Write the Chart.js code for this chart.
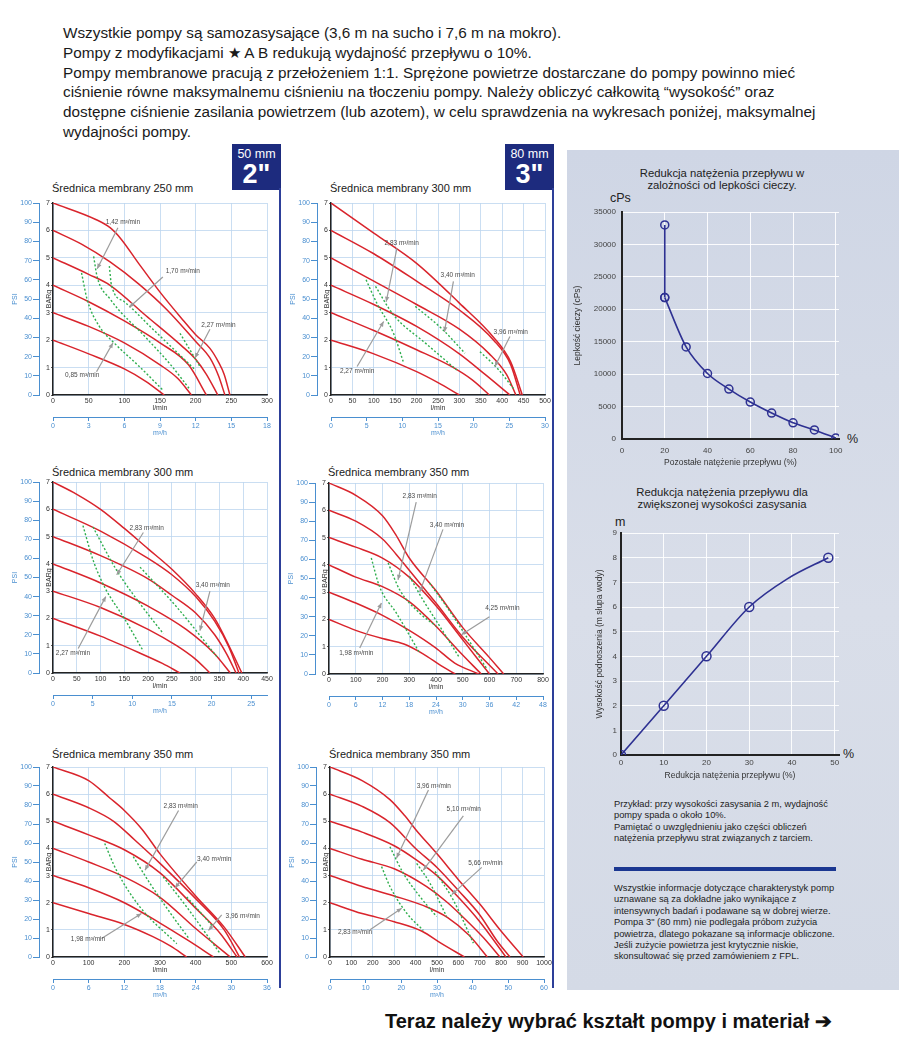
<!DOCTYPE html>
<html lang="pl">
<head>
<meta charset="utf-8">
<title>Pompy membranowe - wykresy wydajności</title>
<script src="https://cdn.jsdelivr.net/npm/chart.js@4.4.1/dist/chart.umd.min.js"></script>
<style>
  body { margin:0; width:899px; height:1037px; position:relative; overflow:hidden; background:#fff;
         font-family:"Liberation Sans", Arial, Helvetica, sans-serif; color:#1a1a1a; }
  .abs { position:absolute; }
  #intro { left:63px; top:23px; font-size:15.3px; line-height:19.8px; white-space:nowrap; }
  .sizebox { background:#1d2b7e; color:#fff; width:49px; height:46px; text-align:center; }
  .sizebox .mm { font-size:12.5px; line-height:13px; margin-top:4px; }
  .sizebox .inch { font-size:27px; font-weight:bold; line-height:26px; }
  .vline { width:2px; background:#2d3f99; }
  .ctitle { font-size:11px; white-space:nowrap; }
  #panel { left:567px; top:150px; width:332px; height:840px;
           background:linear-gradient(180deg,#cfd6e5 0%,#d9dee9 55%,#d4dae6 100%); }
  .ptitle { font-size:11.3px; line-height:12.4px; text-align:center; width:300px; color:#222; }
  .unit { font-size:12.5px; color:#222; }
  .note { font-size:9.3px; line-height:11.4px; color:#222; white-space:nowrap; }
  #footer { left:385px; top:1009px; font-size:20px; font-weight:bold; white-space:nowrap; color:#111; }
</style>
</head>
<body>

<div id="intro" class="abs">
Wszystkie pompy są samozasysające (3,6 m na sucho i 7,6 m na mokro).<br>
Pompy z modyfikacjami ★ A B redukują wydajność przepływu o 10%.<br>
Pompy membranowe pracują z przełożeniem 1:1. Sprężone powietrze dostarczane do pompy powinno mieć<br>
ciśnienie równe maksymalnemu ciśnieniu na tłoczeniu pompy. Należy obliczyć całkowitą “wysokość” oraz<br>
dostępne ciśnienie zasilania powietrzem (lub azotem), w celu sprawdzenia na wykresach poniżej, maksymalnej<br>
wydajności pompy.
</div>

<div class="abs sizebox" style="left:232px;top:144px"><div class="mm">50 mm</div><div class="inch">2"</div></div>
<div class="abs sizebox" style="left:505px;top:144px"><div class="mm">80 mm</div><div class="inch">3"</div></div>
<div class="abs vline" style="left:279px;top:188px;height:800px"></div>
<div class="abs vline" style="left:552px;top:188px;height:800px"></div>

<div id="panel" class="abs"></div>
<div class="abs ptitle" style="left:572px;top:167px">Redukcja natężenia przepływu w<br>zalożności od lepkości cieczy.</div>
<div class="abs unit" style="left:610px;top:191px">cPs</div>
<div class="abs unit" style="left:847px;top:432px">%</div>
<canvas id="viscChart" class="abs" width="276" height="269" style="left:570px;top:200px"></canvas>

<div class="abs ptitle" style="left:572px;top:486px">Redukcja natężenia przepływu dla<br>zwiększonej wysokości zasysania</div>
<div class="abs unit" style="left:615px;top:515px">m</div>
<div class="abs unit" style="left:843px;top:747px">%</div>
<canvas id="liftChart" class="abs" width="256" height="258" style="left:590px;top:525px"></canvas>

<div class="abs note" style="left:614px;top:799px">Przykład: przy wysokości zasysania 2 m, wydajność<br>pompy spada o około 10%.<br>Pamiętać o uwzględnieniu jako części obliczeń<br>natężenia przepływu strat związanych z tarciem.</div>
<div class="abs" style="left:614px;top:867px;width:222px;height:4px;background:#1b3791"></div>
<div class="abs note" style="left:614px;top:883px">Wszystkie informacje dotyczące charakterystyk pomp<br>uznawane są za dokładne jako wynikające z<br>intensywnych badań i podawane są w dobrej wierze.<br>Pompa 3" (80 mm) nie podlegała próbom zużycia<br>powietrza, dlatego pokazane są informacje obliczone.<br>Jeśli zużycie powietrza jest krytycznie niskie,<br>skonsultować się przed zamówieniem z FPL.</div>

<div id="footer" class="abs">Teraz należy wybrać kształt pompy i materiał ➔</div>

<script>
// ---------- pump curves: flow (l/min) vs outlet pressure (BARg) ----------
const pumpTitles = ["Średnica membrany 250 mm", "Średnica membrany 300 mm", "Średnica membrany 300 mm",
                    "Średnica membrany 350 mm", "Średnica membrany 350 mm", "Średnica membrany 350 mm"];
const flowMax  = [300, 500, 450, 800, 600, 1000];
const flowStep = [50, 50, 50, 100, 100, 100];
const m3hMax   = [18, 30, 27, 48, 36, 60];
const m3hStep  = [3, 5, 5, 6, 6, 10];

// air supply pressure curves 7, 6, 5, 4, 3, 2 bar  -> [l/min, BARg]
const red1 = [
  [[0,7],[60,6.4],[80,6.1],[95,5.7],[120,4.8],[150,3.75],[180,2.8],[200,2.2],[220,1.7],[232,1.2],[240,0.75],[248,0]],
  [[0,6],[40,5.5],[80,4.85],[120,4.05],[160,3.1],[200,1.95],[220,1.35],[232,0.7],[241,0]],
  [[0,5],[50,4.4],[80,4.0],[130,2.9],[180,1.8],[200,1.3],[215,0.75],[231,0]],
  [[0,4],[50,3.4],[100,2.7],[150,1.9],[190,1.1],[215,0]],
  [[0,3],[50,2.5],[100,1.9],[150,1.1],[175,0.6],[194,0]],
  [[0,2],[50,1.5],[100,0.95],[130,0.5],[156,0]]
];
const red2 = [
  [[0,7],[100,5.9],[200,4.8],[300,3.35],[380,2.1],[420,1.2],[447,0]],
  [[0,6],[100,5.15],[200,4.15],[300,3.1],[380,2.0],[420,1.1],[442,0]],
  [[0,5],[100,4.15],[200,3.3],[300,2.4],[370,1.5],[410,0.75],[432,0]],
  [[0,4],[100,3.3],[200,2.5],[300,1.5],[360,0.75],[418,0]],
  [[0,3],[100,2.35],[200,1.65],[280,1.05],[330,0.55],[370,0]],
  [[0,2],[100,1.5],[200,0.85],[250,0.45],[300,0]]
];
const red3 = [
  [[0,7],[50,6.55],[100,6.0],[150,5.3],[200,4.55],[250,3.8],[300,2.9],[340,2.0],[370,1.0],[397,0]],
  [[0,6],[100,5.2],[200,4.2],[250,3.6],[300,2.8],[340,1.9],[370,0.95],[391,0]],
  [[0,5],[100,4.3],[200,3.45],[250,2.85],[300,2.2],[340,1.4],[365,0.7],[385,0]],
  [[0,4],[100,3.3],[200,2.45],[280,1.6],[340,0.7],[373,0]],
  [[0,3],[100,2.4],[200,1.6],[260,1.0],[300,0.5],[330,0]],
  [[0,2],[100,1.35],[180,0.75],[230,0.35],[267,0]]
];
const red4 = [
  [[0,7],[100,6.55],[200,5.8],[250,5.1],[300,4.25],[400,3.05],[500,1.7],[600,0.6],[653,0]],
  [[0,6],[100,5.6],[200,4.95],[250,4.4],[300,3.8],[400,2.6],[500,1.35],[632,0]],
  [[0,5],[100,4.65],[200,4.25],[300,3.55],[400,2.5],[500,1.25],[600,0]],
  [[0,4],[100,3.55],[200,3.2],[300,2.65],[400,1.75],[480,0.9],[569,0]],
  [[0,3],[100,2.6],[200,2.15],[300,1.6],[400,0.95],[470,0.4],[560,0]],
  [[0,2],[100,1.6],[200,1.3],[280,1.1],[350,0.75],[420,0.3],[472,0]]
];
const red5 = [
  [[0,7],[100,6.5],[160,5.85],[200,5.4],[250,4.7],[300,3.8],[400,2.25],[480,1.1],[539,0]],
  [[0,6],[100,5.5],[170,5.0],[230,4.3],[300,3.45],[400,2.15],[480,1.0],[523,0]],
  [[0,5],[100,4.5],[200,3.95],[300,3.1],[400,1.8],[470,0.85],[516,0]],
  [[0,4],[100,3.5],[200,2.95],[300,2.2],[400,1.05],[497,0]],
  [[0,3],[100,2.55],[200,2.0],[300,1.25],[380,0.6],[450,0]],
  [[0,2],[100,1.6],[200,1.2],[280,0.75],[330,0.4],[375,0]]
];
const red6 = [
  [[0,7],[150,6.5],[280,5.8],[350,5.2],[400,4.7],[500,3.8],[600,2.85],[700,1.95],[800,0.95],[903,0]],
  [[0,6],[150,5.55],[280,4.95],[400,4.0],[500,3.3],[600,2.45],[700,1.55],[780,0.6],[841,0]],
  [[0,5],[150,4.6],[300,4.1],[400,3.6],[500,3.0],[600,2.2],[700,1.3],[822,0]],
  [[0,4],[150,3.6],[300,3.25],[450,2.6],[550,2.0],[650,1.25],[730,0.6],[794,0]],
  [[0,3],[150,2.6],[300,2.25],[450,1.85],[550,1.45],[650,0.8],[735,0]],
  [[0,2],[150,1.6],[300,1.3],[430,0.95],[520,0.5],[628,0]]
];

// air consumption lines (dashed green)
const green1 = [
  [[40,4.45],[48,3.47],[65,2.5],[86,1.89],[121,1.04],[154,0.18]],
  [[57,5.05],[62,4.3],[80,3.5],[130,2.1],[165,1.1],[192,0.2]],
  [[79,4.7],[82,4.0],[100,3.4],[140,2.4],[180,1.4],[200,0.9]],
  [[178,2.25],[206,1.04]]
];
const green2 = [
  [[82,4.2],[107,3.35],[146,2.25],[170,1.16]],
  [[104,3.96],[146,2.92],[220,1.9],[294,0.91]],
  [[197,3.23],[260,2.4],[313,1.52]],
  [[348,1.58],[390,0.95],[426,0.24]]
];
const green3 = [
  [[63,5.4],[85,4.1],[110,3.1],[150,2.0],[190,0.8]],
  [[84,5.35],[134,3.76],[183,2.54],[232,1.44]],
  [[183,3.88],[260,2.42],[345,0.59]]
];
const green4 = [
  [[158,4.25],[189,3.2],[252,2.23],[339,0.77]],
  [[221,4.07],[264,3.09],[339,2.23],[401,1.75]],
  [[301,3.58],[351,2.72],[414,1.75],[488,0.59]],
  [[376,3.33],[439,2.48],[513,1.38],[588,0.22]]
];
const green5 = [
  [[145,4.18],[178,3.19],[244,1.84],[347,0.49]],
  [[225,3.7],[270,2.75],[330,1.6],[380,0.7]],
  [[309,2.95],[375,1.84],[469,0.12]],
  [[375,2.21],[450,1.1]]
];
const green6 = [
  [[241,3.33],[280,2.6],[358,1.62],[436,0.98]],
  [[280,4.06],[343,3.08],[420,2.23],[498,1.49]],
  [[405,3.45],[467,2.72],[545,1.49]],
  [[491,3.15],[576,2.1],[670,0.51]]
];

// callouts: [label, textX, textY, fromX, fromY, toX, toY] in l/min / BARg
const notes1 = [
  ["1,42 m³/min", 98, 6.3, 91, 6.1, 62, 4.6],
  ["1,70 m³/min", 182, 4.5, 154, 4.3, 107, 3.2],
  ["2,27 m³/min", 232, 2.55, 220, 2.4, 199, 1.35],
  ["0,85 m³/min", 41, 0.73, 61, 0.85, 84, 1.9]
];
const notes2 = [
  ["2,83 m³/min", 165, 5.55, 154, 5.35, 129, 3.4],
  ["3,40 m³/min", 296, 4.35, 286, 4.14, 265, 2.3],
  ["3,96 m³/min", 420, 2.3, 418, 2.13, 383, 1.04],
  ["2,27 m³/min", 61, 0.85, 61, 1.04, 123, 2.68]
];
const notes3 = [
  ["2,83 m³/min", 197, 5.3, 190, 5.15, 134, 3.6],
  ["3,40 m³/min", 336, 3.2, 330, 3.0, 309, 1.55],
  ["2,27 m³/min", 42, 0.72, 53, 0.9, 111, 2.8]
];
const notes4 = [
  ["2,83 m³/min", 339, 6.5, 326, 6.3, 258, 3.45],
  ["3,40 m³/min", 441, 5.45, 426, 5.3, 339, 3.0],
  ["4,25 m³/min", 648, 2.4, 600, 2.1, 495, 1.44],
  ["1,98 m³/min", 102, 0.77, 115, 0.95, 196, 2.6]
];
const notes5 = [
  ["2,83 m³/min", 358, 5.55, 352, 5.4, 258, 3.2],
  ["3,40 m³/min", 452, 3.6, 403, 3.5, 342, 2.55],
  ["3,96 m³/min", 532, 1.5, 473, 1.55, 436, 0.98],
  ["1,98 m³/min", 98, 0.64, 136, 0.68, 248, 1.6]
];
const notes6 = [
  ["3,96 m³/min", 485, 6.3, 460, 6.15, 311, 3.65],
  ["5,10 m³/min", 625, 5.45, 623, 5.2, 436, 3.2],
  ["5,66 m³/min", 726, 3.47, 709, 3.3, 569, 2.3],
  ["2,83 m³/min", 117, 0.9, 187, 1.0, 335, 1.8]
];

const redSets = [red1, red2, red3, red4, red5, red6];
const greenSets = [green1, green2, green3, green4, green5, green6];
const noteSets = [notes1, notes2, notes3, notes4, notes5, notes6];

// ---------- right panel ----------
const viscFlow = [20, 20, 30, 40, 50, 60, 70, 80, 90, 100];
const viscCps  = [33000, 21800, 14200, 10100, 7700, 5700, 4000, 2500, 1400, 150];
const liftReduction = [0, 10, 20, 30, 39, 48.5];
const liftHeight    = [0, 2, 4, 6, 7.15, 8];
const liftMarked    = [true, true, true, true, false, true];

// plot area of each pump chart on the page: left, top, width, height
const plotBox = [[53,203,214,192],[331,203,214,192],[53,482,214,191],[329,483,214,191],[53,767,214,190],[330,767,214,190]];
const titleY = [182, 182, 466, 466, 748, 748];

Chart.defaults.font.family = '"Liberation Sans", Arial, sans-serif';
Chart.defaults.animation = false;

const BLUE = '#4a8fd0';
const GRID = '#bcd6ef';
const plain = v => String(v);

function fixBox(w, h) {
  return (s) => {
    if (w) s.width = w;
    if (h) s.height = h;
    s.paddingTop = s.paddingBottom = s.paddingLeft = s.paddingRight = 0;
  };
}

const toXY = (pts) => pts.map(p => ({x: p[0], y: p[1]}));

const notesPlugin = {
  id: 'notes',
  afterDatasetsDraw(chart, args, opts) {
    const {ctx} = chart;
    const sx = chart.scales.x, sy = chart.scales.y;
    ctx.save();
    ctx.strokeStyle = '#9c9c9c';
    ctx.fillStyle = '#9c9c9c';
    ctx.lineWidth = 1.2;
    (opts.items || []).forEach(n => {
      const x1 = sx.getPixelForValue(n[3]), y1 = sy.getPixelForValue(n[4]);
      const x2 = sx.getPixelForValue(n[5]), y2 = sy.getPixelForValue(n[6]);
      ctx.beginPath(); ctx.moveTo(x1, y1); ctx.lineTo(x2, y2); ctx.stroke();
      const a = Math.atan2(y2 - y1, x2 - x1);
      ctx.beginPath();
      ctx.moveTo(x2, y2);
      ctx.lineTo(x2 - 5 * Math.cos(a) + 2.2 * Math.sin(a), y2 - 5 * Math.sin(a) - 2.2 * Math.cos(a));
      ctx.lineTo(x2 - 5 * Math.cos(a) - 2.2 * Math.sin(a), y2 - 5 * Math.sin(a) + 2.2 * Math.cos(a));
      ctx.closePath(); ctx.fill();
    });
    ctx.fillStyle = '#4a4a4a';
    ctx.font = '6.5px "Liberation Sans", Arial, sans-serif';
    ctx.textAlign = 'center';
    ctx.textBaseline = 'middle';
    (opts.items || []).forEach(n => {
      ctx.fillText(n[0], sx.getPixelForValue(n[1]), sy.getPixelForValue(n[2]));
    });
    ctx.restore();
  }
};

function pumpChart(i) {
  const [pl, pt, pw, ph] = plotBox[i];
  const title = document.createElement('div');
  title.className = 'abs ctitle';
  title.style.left = (pl - 1) + 'px';
  title.style.top = titleY[i] + 'px';
  title.textContent = pumpTitles[i];
  document.body.appendChild(title);

  const cv = document.createElement('canvas');
  cv.className = 'abs';
  cv.width = pw + 58;
  cv.height = ph + 52;
  cv.style.left = (pl - 48) + 'px';
  cv.style.top = (pt - 6) + 'px';
  document.body.appendChild(cv);

  const datasets = [];
  greenSets[i].forEach(c => datasets.push({
    data: toXY(c), showLine: true, borderColor: '#2fae4e', borderWidth: 1.4,
    borderDash: [2, 2], pointRadius: 0, cubicInterpolationMode: 'monotone'
  }));
  redSets[i].forEach(c => datasets.push({
    data: toXY(c), showLine: true, borderColor: '#d9242c', borderWidth: 1.5,
    pointRadius: 0, cubicInterpolationMode: 'monotone'
  }));

  const tick7 = {size: 7};
  new Chart(cv, {
    type: 'scatter',
    data: {datasets},
    options: {
      responsive: false,
      events: [],
      layout: {padding: {left: 0, top: 6, right: 10, bottom: 0}},
      plugins: {legend: {display: false}, tooltip: {enabled: false}, notes: {items: noteSets[i]}},
      scales: {
        x: {
          type: 'linear', position: 'bottom', weight: 0, min: 0, max: flowMax[i],
          ticks: {stepSize: flowStep[i], font: tick7, color: '#333', padding: 2, maxRotation: 0, autoSkip: false, callback: plain},
          grid: {color: GRID, lineWidth: 0.8, drawTicks: false},
          border: {color: '#222', width: 1.5},
          title: {display: true, text: 'l/min', font: tick7, color: '#333', padding: {top: 0, bottom: 5}},
          afterFit: fixBox(0, 22)
        },
        x2: {
          type: 'linear', display: true, position: 'bottom', weight: 1, min: 0, max: m3hMax[i],
          ticks: {stepSize: m3hStep[i], includeBounds: false, font: tick7, color: BLUE, padding: 1, maxRotation: 0, autoSkip: false},
          grid: {drawOnChartArea: false, color: BLUE, tickLength: 4},
          border: {color: BLUE, width: 1},
          title: {display: true, text: 'm³/h', font: tick7, color: BLUE, padding: {top: 0, bottom: 4}},
          afterFit: fixBox(0, 24)
        },
        y: {
          type: 'linear', position: 'left', weight: 0, min: 0, max: 7,
          ticks: {stepSize: 1, font: tick7, color: '#333', padding: 1, autoSkip: false},
          grid: {color: GRID, lineWidth: 0.8, tickLength: 2, tickColor: '#333'},
          border: {color: '#222', width: 1.5},
          title: {display: true, text: 'BARg', font: tick7, color: '#333', padding: {top: 6, bottom: 0}},
          afterFit: fixBox(14, 0)
        },
        y2: {
          type: 'linear', display: true, position: 'left', weight: 1, min: 0, max: 100,
          ticks: {stepSize: 10, font: tick7, color: BLUE, padding: 1, autoSkip: false},
          grid: {drawOnChartArea: false, color: BLUE, tickLength: 6},
          border: {color: BLUE, width: 1},
          title: {display: true, text: 'PSI', font: tick7, color: BLUE, padding: {top: 6, bottom: 0}},
          afterFit: fixBox(34, 0)
        }
      }
    },
    plugins: [notesPlugin]
  });
}

for (let i = 0; i < 6; i++) pumpChart(i);

// ---------- viscosity chart ----------
const navy = '#2e3192';
const panelTick = {size: 8};
const panelTitle = {size: 8.5};
const whiteGrid = {color: 'rgba(255,255,255,0.9)', lineWidth: 1, drawTicks: false};

const viscPts = viscFlow.map((x, k) => ({x, y: viscCps[k]}));
new Chart(document.getElementById('viscChart'), {
  type: 'scatter',
  data: {
    datasets: [
      {data: viscPts.slice(0, 2), showLine: true, borderColor: navy, borderWidth: 1.6,
       pointRadius: 4, pointBorderWidth: 1.5, pointBorderColor: navy, pointBackgroundColor: 'rgba(0,0,0,0)'},
      {data: viscPts.slice(1), showLine: true, borderColor: navy, borderWidth: 1.6, cubicInterpolationMode: 'monotone',
       pointRadius: 4, pointBorderWidth: 1.5, pointBorderColor: navy, pointBackgroundColor: 'rgba(0,0,0,0)'}
    ]
  },
  options: {
    responsive: false, events: [],
    layout: {padding: {left: 0, top: 12, right: 7, bottom: 0}},
    plugins: {legend: {display: false}, tooltip: {enabled: false}},
    scales: {
      x: {
        type: 'linear', min: 0, max: 101.5,
        ticks: {stepSize: 20, includeBounds: false, font: panelTick, color: '#444', padding: 7, maxRotation: 0},
        grid: whiteGrid, border: {color: '#222', width: 2},
        title: {display: true, text: 'Pozostałe natężenie przepływu (%)', font: panelTitle, color: '#333', padding: {top: 0, bottom: 1}},
        afterFit: fixBox(0, 30)
      },
      y: {
        type: 'linear', min: 0, max: 35000,
        ticks: {stepSize: 5000, font: panelTick, color: '#444', padding: 6, callback: plain},
        grid: whiteGrid, border: {color: '#222', width: 2},
        title: {display: true, text: 'Lepkość cieczy (cPs)', font: panelTitle, color: '#333', padding: {top: 3, bottom: 0}},
        afterFit: fixBox(52, 0)
      }
    }
  }
});

// ---------- suction lift chart ----------
new Chart(document.getElementById('liftChart'), {
  type: 'scatter',
  data: {
    datasets: [{
      data: liftReduction.map((x, k) => ({x, y: liftHeight[k]})),
      showLine: true, borderColor: navy, borderWidth: 1.6, cubicInterpolationMode: 'monotone',
      pointRadius: liftMarked.map(m => m ? 4.5 : 0), pointBorderWidth: 1.5,
      pointBorderColor: navy, pointBackgroundColor: 'rgba(0,0,0,0)'
    }]
  },
  options: {
    responsive: false, events: [],
    layout: {padding: {left: 0, top: 8, right: 7, bottom: 0}},
    plugins: {legend: {display: false}, tooltip: {enabled: false}},
    scales: {
      x: {
        type: 'linear', min: 0, max: 51,
        ticks: {stepSize: 10, includeBounds: false, font: panelTick, color: '#444', padding: 3, maxRotation: 0},
        grid: whiteGrid, border: {color: '#222', width: 2},
        title: {display: true, text: 'Redukcja natężenia przepływu (%)', font: panelTitle, color: '#333', padding: {top: 0, bottom: 2}},
        afterFit: fixBox(0, 28)
      },
      y: {
        type: 'linear', min: 0, max: 9,
        ticks: {stepSize: 1, font: panelTick, color: '#444', padding: 4},
        grid: whiteGrid, border: {color: '#222', width: 2},
        title: {display: true, text: 'Wysokość podnoszenia (m słupa wody)', font: panelTitle, color: '#333', padding: {top: 5, bottom: 0}},
        afterFit: fixBox(31, 0)
      }
    }
  }
});
</script>
</body>
</html>
